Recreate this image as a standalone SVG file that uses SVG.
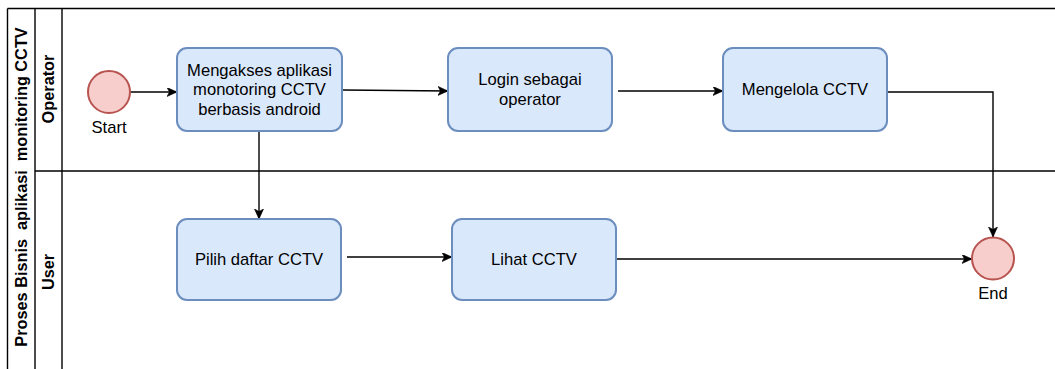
<svg xmlns="http://www.w3.org/2000/svg" width="1055" height="369" viewBox="0 0 1055 369">
  <style>
    .pool { fill: none; stroke: #000000; stroke-width: 1.4; }
    .task { fill: #dae8fc; stroke: #6c8ebf; stroke-width: 2; }
    .event { fill: #f8cecc; stroke: #b85450; stroke-width: 2; }
    .label { font-family: "Liberation Sans", Arial, sans-serif; font-size: 16.6px; fill: #000000; text-anchor: middle; }
    .head { font-family: "Liberation Sans", Arial, sans-serif; font-size: 16.3px; font-weight: bold; fill: #000000; text-anchor: middle; }
    .flow { fill: none; stroke: #000000; stroke-width: 1.4; marker-end: url(#arrow); }
  </style>
  <defs>
    <marker id="arrow" markerUnits="userSpaceOnUse" markerWidth="12" markerHeight="10" refX="10" refY="4.5" orient="auto">
      <path d="M0,0 L10,4.5 L0,9 L2.5,4.5 Z" fill="#000000" stroke="#000000" stroke-width="0.6"/>
    </marker>
  </defs>

  <rect width="1055" height="369" fill="#ffffff"/>

  <!-- pool and lanes -->
  <g id="pool">
    <line class="pool" x1="7.5" y1="8.5" x2="1055" y2="8.5"/>
    <line class="pool" x1="7.5" y1="8.5" x2="7.5" y2="369"/>
    <line class="pool" x1="35" y1="8.5" x2="35" y2="369"/>
    <line class="pool" x1="62" y1="8.5" x2="62" y2="369"/>
    <line class="pool" x1="35" y1="171" x2="1055" y2="171"/>
    <text class="head" xml:space="preserve" transform="translate(27,187) rotate(-90)">Proses Bisnis  aplikasi  monitoring CCTV</text>
  </g>
  <g id="lane-operator">
    <text class="head" transform="translate(54,89) rotate(-90)">Operator</text>
  </g>
  <g id="lane-user">
    <text class="head" transform="translate(54,272) rotate(-90)">User</text>
  </g>

  <!-- connectors -->
  <g id="connectors">
    <path class="flow" d="M130,92 L177,92"/>
    <path class="flow" d="M343,90 L448,91"/>
    <path class="flow" d="M618,91 L723,91"/>
    <path class="flow" d="M887,92 L993,92 L993,237"/>
    <path class="flow" d="M259,131 L259,219"/>
    <path class="flow" d="M347,257 L452,257"/>
    <path class="flow" d="M616,259 L972,259"/>
  </g>

  <!-- events -->
  <g id="start">
    <circle class="event" cx="109" cy="92" r="21"/>
    <text class="label" x="109" y="132.7">Start</text>
  </g>
  <g id="end">
    <circle class="event" cx="993" cy="258.5" r="21"/>
    <text class="label" x="993" y="298.7">End</text>
  </g>

  <!-- tasks -->
  <g id="task-akses">
    <rect class="task" x="177" y="48" width="165" height="83" rx="10" ry="10"/>
    <text class="label" x="259.5" y="75.6">Mengakses aplikasi</text>
    <text class="label" x="259.5" y="95.2">monotoring CCTV</text>
    <text class="label" x="259.5" y="114.8">berbasis android</text>
  </g>
  <g id="task-login">
    <rect class="task" x="448" y="48" width="164" height="83" rx="10" ry="10"/>
    <text class="label" x="530" y="85.4">Login sebagai</text>
    <text class="label" x="530" y="105">operator</text>
  </g>
  <g id="task-kelola">
    <rect class="task" x="723" y="48" width="164" height="83" rx="10" ry="10"/>
    <text class="label" x="805" y="95.2">Mengelola CCTV</text>
  </g>
  <g id="task-pilih">
    <rect class="task" x="177" y="219" width="164" height="81" rx="10" ry="10"/>
    <text class="label" x="259" y="265.2">Pilih daftar CCTV</text>
  </g>
  <g id="task-lihat">
    <rect class="task" x="452" y="219" width="164" height="81" rx="10" ry="10"/>
    <text class="label" x="534" y="265.2">Lihat CCTV</text>
  </g>
</svg>
